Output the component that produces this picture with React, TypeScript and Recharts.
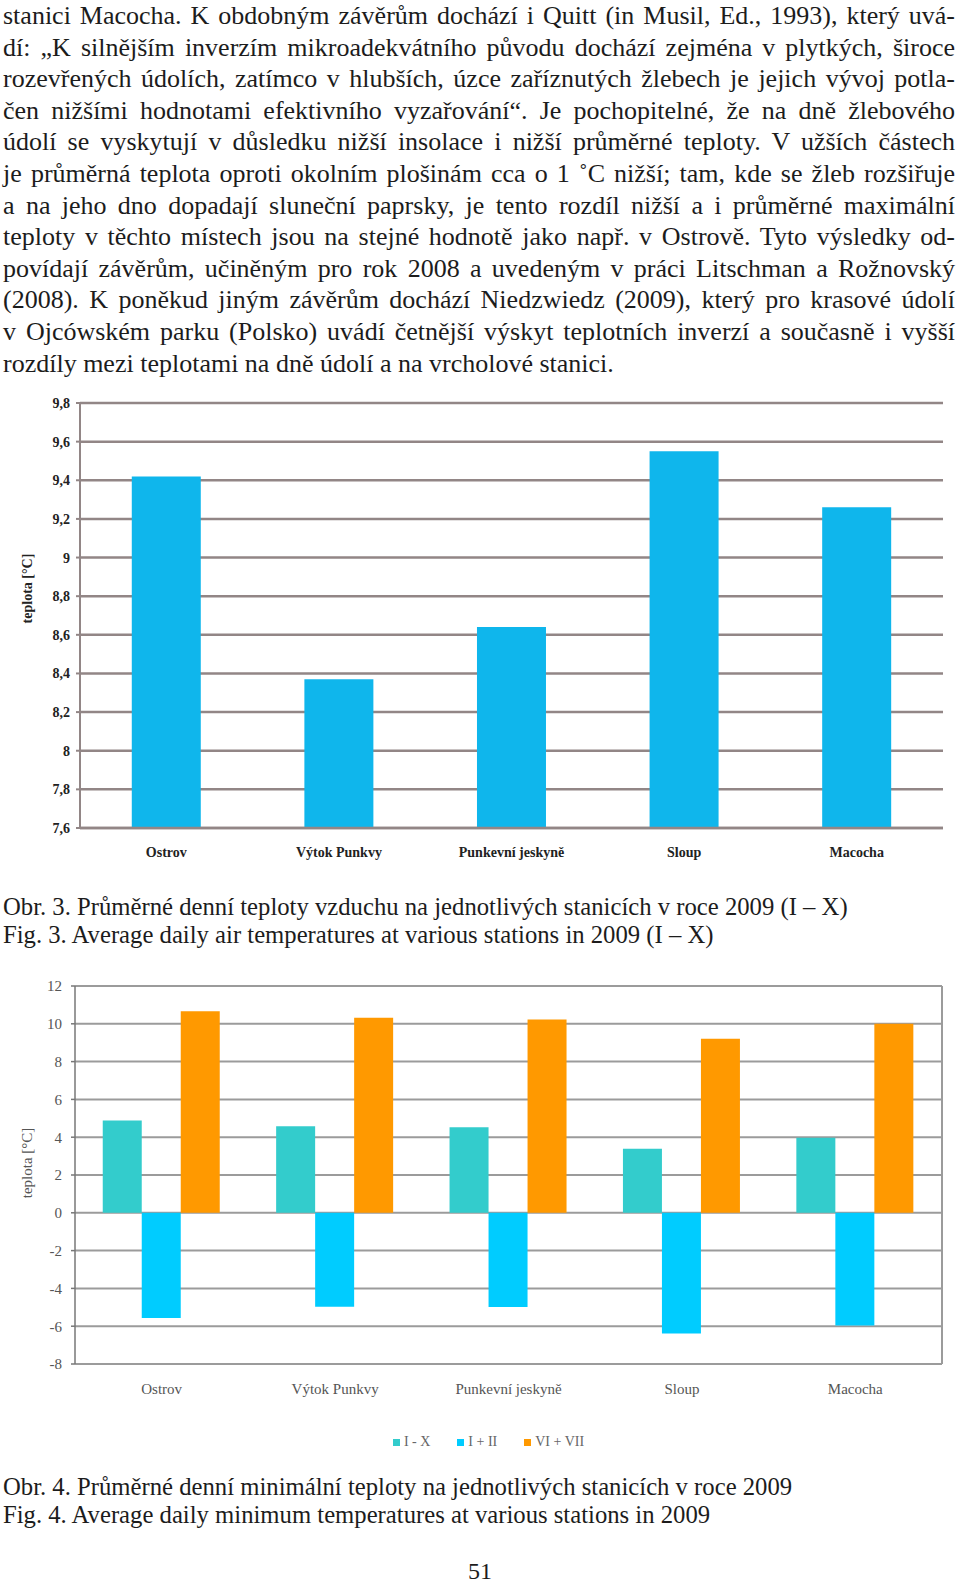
import { BarChart, Bar, CartesianGrid, XAxis, YAxis, Legend, Label } from "recharts"

const stations = ["Ostrov", "Výtok Punkvy", "Punkevní jeskyně", "Sloup", "Macocha"]

// Obr. 3 - mean daily air temperature (I - X)
const meanTemp = [9.42, 8.37, 8.64, 9.55, 9.26]
const meanTicks = [7.6, 7.8, 8, 8.2, 8.4, 8.6, 8.8, 9, 9.2, 9.4, 9.6, 9.8]

// Obr. 4 - mean daily minimum temperature
const minIX = [4.88, 4.58, 4.53, 3.39, 3.97]
const minIII = [-5.56, -4.97, -4.99, -6.39, -5.96]
const minVIVII = [10.67, 10.32, 10.23, 9.21, 10.0]
const minTicks = [-8, -6, -4, -2, 0, 2, 4, 6, 8, 10, 12]
const legendOrder = ["I - X", "I + II", "VI + VII"]

const textLines = [
  "stanici Macocha. K obdobným závěrům dochází i Quitt (in Musil, Ed., 1993), který uvá-",
  "dí: „K silnějším inverzím mikroadekvátního původu dochází zejména v plytkých, široce",
  "rozevřených údolích, zatímco v hlubších, úzce zaříznutých žlebech je jejich vývoj potla-",
  "čen nižšími hodnotami efektivního vyzařování“. Je pochopitelné, že na dně žlebového",
  "údolí se vyskytují v důsledku nižší insolace i nižší průměrné teploty. V užších částech",
  "je průměrná teplota oproti okolním plošinám cca o 1 ˚C nižší; tam, kde se žleb rozšiřuje",
  "a na jeho dno dopadají sluneční paprsky, je tento rozdíl nižší a i průměrné maximální",
  "teploty v těchto místech jsou na stejné hodnotě jako např. v Ostrově. Tyto výsledky od-",
  "povídají závěrům, učiněným pro rok 2008 a uvedeným v práci Litschman a Rožnovský",
  "(2008). K poněkud jiným závěrům dochází Niedzwiedz (2009), který pro krasové údolí",
  "v Ojcówském parku (Polsko) uvádí četnější výskyt teplotních inverzí a současně i vyšší",
  "rozdíly mezi teplotami na dně údolí a na vrcholové stanici.",
]

const serif = '"Liberation Serif", "Times New Roman", serif'

const meanData = stations.map((s, i) => ({ station: s, temp: meanTemp[i] }))
const minData = stations.map((s, i) => ({
  station: s,
  ix: minIX[i],
  iii: minIII[i],
  vivii: minVIVII[i],
}))

const comma = (v: number) => String(Math.round(v * 10) / 10).replace(".", ",")

function yLabel(text: string, shift: number, style: any) {
  return (props: any) => {
    const vb = props.viewBox
    const x = vb.x + 27
    const y = vb.y + vb.height / 2 + shift
    return (
      <text
        x={x}
        y={y}
        transform={`rotate(-90 ${x} ${y})`}
        textAnchor="middle"
        dominantBaseline="central"
        style={style}
      >
        {text}
      </text>
    )
  }
}

function MeanChart() {
  return (
    <BarChart
      width={960}
      height={500}
      data={meanData}
      margin={{ top: 23, right: 17, bottom: 22, left: 0 }}
      barCategoryGap="30%"
    >
      <CartesianGrid vertical={false} stroke="#928686" strokeWidth={2.5} />
      <XAxis
        dataKey="station"
        height={30}
        tickLine={false}
        tickSize={0}
        tickMargin={19}
        axisLine={{ stroke: "#928686", strokeWidth: 2.5 }}
        tick={{ fontFamily: serif, fontSize: 14, fontWeight: "bold", fill: "#222" }}
      />
      <YAxis
        width={80}
        domain={[7.6, 9.8]}
        ticks={meanTicks}
        tickFormatter={comma}
        tickSize={4}
        tickMargin={6}
        axisLine={{ stroke: "#928686", strokeWidth: 2 }}
        tickLine={{ stroke: "#928686", strokeWidth: 2 }}
        tick={{ fontFamily: serif, fontSize: 14, fontWeight: "bold", fill: "#222" }}
      >
        <Label
          content={yLabel("teplota [°C]", -27, {
            fontFamily: serif,
            fontSize: 14,
            fontWeight: "bold",
            fill: "#222",
          })}
        />
      </YAxis>
      <Bar dataKey="temp" fill="#0fb6ec" isAnimationActive={false} />
    </BarChart>
  )
}

function MinChart() {
  const grey = "#9b9b9b"
  return (
    <BarChart
      width={960}
      height={500}
      data={minData}
      margin={{ top: 26, right: 18, bottom: 66, left: 0 }}
      barCategoryGap="16%"
      barGap={0}
    >
      <CartesianGrid
        stroke={grey}
        strokeWidth={2}
        verticalCoordinatesGenerator={({ offset }: any) => [offset.left + offset.width]}
      />
      <XAxis
        dataKey="station"
        height={30}
        tickLine={false}
        tickSize={0}
        tickMargin={19}
        axisLine={{ stroke: grey, strokeWidth: 2 }}
        tick={{ fontFamily: serif, fontSize: 15, fill: "#555" }}
      />
      <YAxis
        width={75}
        domain={[-8, 12]}
        ticks={minTicks}
        tickSize={4}
        tickMargin={9}
        axisLine={{ stroke: "#777", strokeWidth: 1.5 }}
        tickLine={{ stroke: "#777", strokeWidth: 1.5 }}
        tick={{ fontFamily: serif, fontSize: 15, fill: "#555" }}
      >
        <Label
          content={yLabel("teplota [°C]", -12, { fontFamily: serif, fontSize: 15, fill: "#555" })}
        />
      </YAxis>
      <Legend
        verticalAlign="middle"
        iconType="square"
        iconSize={7}
        itemSorter={(item: any) => legendOrder.indexOf(item.value)}
        wrapperStyle={{ top: 472, left: 22, width: 960 }}
        formatter={(value: string) => (
          <span style={{ color: "#666", fontFamily: serif, fontSize: 14, paddingRight: 17 }}>
            {value}
          </span>
        )}
      />
      <Bar dataKey="ix" name="I - X" fill="#33cccc" isAnimationActive={false} />
      <Bar dataKey="iii" name="I + II" fill="#00ccff" isAnimationActive={false} />
      <Bar dataKey="vivii" name="VI + VII" fill="#ff9900" isAnimationActive={false} />
    </BarChart>
  )
}

export default function App() {
  const abs = (top: number): React.CSSProperties => ({ position: "absolute", left: 0, top })
  return (
    <div
      style={{
        position: "absolute",
        left: 0,
        top: 0,
        width: 960,
        height: 1585,
        background: "#fff",
        fontFamily: serif,
        color: "#1c1c1c",
        overflow: "hidden",
      }}
    >
      <div style={{ position: "absolute", left: 3, top: 0, width: 952 }}>
        {textLines.map((line, i) => (
          <div
            key={i}
            style={{
              fontFamily: serif,
              fontSize: 26,
              lineHeight: "31.6px",
              height: 31.6,
              whiteSpace: "nowrap",
              textAlign: i < textLines.length - 1 ? "justify" : "left",
              textAlignLast: i < textLines.length - 1 ? "justify" : "left",
            }}
          >
            {line}
          </div>
        ))}
      </div>

      <div style={abs(380)}>
        <MeanChart />
      </div>

      <div style={{ position: "absolute", left: 3, top: 893, fontSize: 24.7, lineHeight: "28px" }}>
        <div>Obr. 3. Průměrné denní teploty vzduchu na jednotlivých stanicích v roce 2009 (I – X)</div>
        <div>Fig. 3. Average daily air temperatures at various stations in 2009 (I – X)</div>
      </div>

      <div style={abs(960)}>
        <MinChart />
      </div>

      <div style={{ position: "absolute", left: 3, top: 1473, fontSize: 24.7, lineHeight: "28px" }}>
        <div>Obr. 4. Průměrné denní minimální teploty na jednotlivých stanicích v roce 2009</div>
        <div>Fig. 4. Average daily minimum temperatures at various stations in 2009</div>
      </div>

      <div
        style={{
          position: "absolute",
          left: 0,
          width: 960,
          top: 1557,
          fontSize: 24,
          lineHeight: "28px",
          textAlign: "center",
        }}
      >
        51
      </div>
    </div>
  )
}
